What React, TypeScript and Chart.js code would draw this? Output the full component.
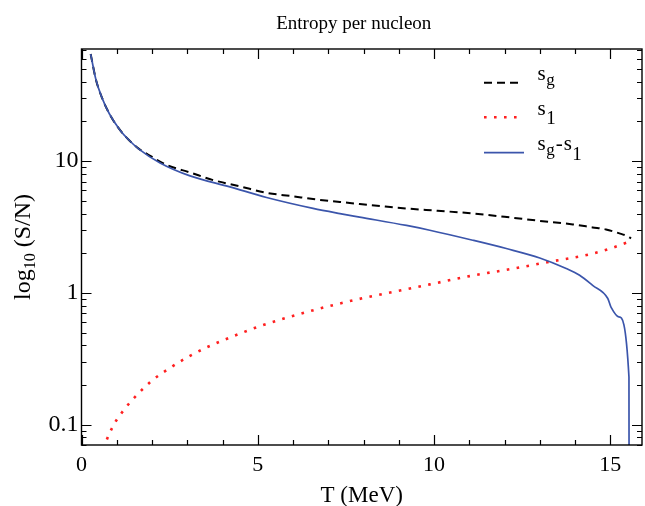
import React, { useEffect, useRef } from 'react';
import { Chart, registerables } from 'chart.js';

Chart.register(...registerables);

const SERIF = '"Liberation Serif", "Times New Roman", Times, serif';

const titleText = 'Entropy per nucleon';
const xTitle = 'T (MeV)';
const yTitleMain = 'log';
const yTitleSub = '10';
const yTitleRest = ' (S/N)';

const xMin = 0;
const xMax = 15.9;
const yMin = 0.07;
const yMax = 71;
const xMajorTicks = [0, 5, 10, 15];
const yMajorTicks = [0.1, 1, 10];

// s_g (black dashed)
const sgT = [0.26, 0.41, 0.585, 0.79, 1.1, 1.33, 1.62, 1.8, 2.43, 3.08, 3.74, 4.5, 5.25, 6.0, 6.57, 7.33, 7.89, 8.5, 9.22, 10.1, 11.1, 12.0, 13.0, 13.94, 14.5, 14.88, 15.26, 15.45, 15.59];
const sgV = [65, 41.5, 30.1, 22.9, 17.1, 14.6, 12.45, 11.6, 9.33, 8.2, 7.17, 6.43, 5.75, 5.41, 5.15, 4.9, 4.72, 4.55, 4.37, 4.2, 4.01, 3.78, 3.52, 3.31, 3.14, 3.03, 2.83, 2.72, 2.59];

// s_1 (red dotted)
const s1T = [0.55, 0.67, 0.9, 1.23, 1.61, 2.03, 2.5, 2.99, 3.5, 4.03, 4.57, 5.11, 5.66, 6.21, 6.76, 7.33, 7.89, 8.44, 9.88, 11.01, 12.14, 13.27, 14.41, 15.0, 15.49];
const s1V = [0.055, 0.071, 0.098, 0.132, 0.172, 0.219, 0.268, 0.323, 0.38, 0.438, 0.5, 0.565, 0.628, 0.693, 0.761, 0.831, 0.9, 0.966, 1.16, 1.34, 1.51, 1.72, 1.96, 2.17, 2.42];

// s_g - s_1 (blue solid)
const dT = [0.26, 0.41, 0.585, 0.79, 1.1, 1.33, 1.62, 2.23, 3.08, 4.21, 5.25, 6.57, 7.33, 7.89, 9.22, 9.88, 11.1, 12.05, 13.0, 13.75, 14.13, 14.5, 14.93, 15.02, 15.24, 15.53, 15.54];
const dV = [65, 41.5, 30.1, 22.9, 17.1, 14.6, 12.4, 9.69, 7.73, 6.38, 5.3, 4.38, 4.0, 3.76, 3.25, 2.99, 2.51, 2.17, 1.84, 1.53, 1.36, 1.14, 0.906, 0.78, 0.658, 0.23, 0.001];

type Part = { t: string; sub?: boolean };
const legendItems: { parts: Part[]; ds: number }[] = [
  { parts: [{ t: 's' }, { t: 'g', sub: true }], ds: 2 },
  { parts: [{ t: 's' }, { t: '1', sub: true }], ds: 1 },
  { parts: [{ t: 's' }, { t: 'g', sub: true }, { t: '-' }, { t: 's' }, { t: '1', sub: true }], ds: 0 },
];

const BLUE = '#3b55ab';
const RED = '#ff2020';

const decor = {
  id: 'decor',
  afterDraw(chart: any) {
    const { ctx, chartArea: a, scales } = chart;
    const xs = scales.x;
    const ys = scales.y;
    ctx.save();
    // frame
    ctx.strokeStyle = '#000';
    ctx.lineWidth = 1.4;
    ctx.strokeRect(a.left, a.top, a.right - a.left, a.bottom - a.top);
    // ticks (inward)
    ctx.lineWidth = 1.2;
    ctx.beginPath();
    for (let t = Math.ceil(xMin); t <= xMax; t += 1) {
      const px = Math.round(xs.getPixelForValue(t)) + 0.5;
      const L = xMajorTicks.includes(t) ? 10 : 5;
      ctx.moveTo(px, a.bottom);
      ctx.lineTo(px, a.bottom - L);
      ctx.moveTo(px, a.top);
      ctx.lineTo(px, a.top + L);
    }
    for (let d = -2; d <= 2; d++) {
      for (let k = 1; k <= 9; k++) {
        const v = k * Math.pow(10, d);
        if (v < yMin || v > yMax) continue;
        const py = Math.round(ys.getPixelForValue(v)) + 0.5;
        const L = k === 1 ? 10 : 5;
        ctx.moveTo(a.left, py);
        ctx.lineTo(a.left + L, py);
        ctx.moveTo(a.right, py);
        ctx.lineTo(a.right - L, py);
      }
    }
    ctx.stroke();

    // title
    ctx.fillStyle = '#000';
    ctx.font = `19px ${SERIF}`;
    ctx.textAlign = 'center';
    ctx.textBaseline = 'alphabetic';
    ctx.fillText(titleText, (a.left + a.right) / 2 - 8, 28.5);

    // y axis title (rotated, with subscript)
    ctx.save();
    const mainFont = `24px ${SERIF}`;
    const subFont = `16px ${SERIF}`;
    ctx.font = mainFont;
    const w1 = ctx.measureText(yTitleMain).width;
    const w3 = ctx.measureText(yTitleRest).width;
    ctx.font = subFont;
    const w2 = ctx.measureText(yTitleSub).width;
    const total = w1 + w2 + w3;
    const cy = (a.top + a.bottom) / 2;
    ctx.translate(30, cy);
    ctx.rotate(-Math.PI / 2);
    ctx.textAlign = 'left';
    let cx = -total / 2;
    ctx.font = mainFont;
    ctx.fillText(yTitleMain, cx, 0);
    cx += w1;
    ctx.font = subFont;
    ctx.fillText(yTitleSub, cx, 5);
    cx += w2;
    ctx.font = mainFont;
    ctx.fillText(yTitleRest, cx, 0);
    ctx.restore();

    // legend
    const rowsY = [a.top + 33.7, a.top + 68.3, a.top + 103.7];
    const sx0 = a.right - 158;
    const sampleLen = [36, 36, 40];
    const tx0 = a.right - 104.5;
    legendItems.forEach((item, i) => {
      const ds = chart.data.datasets[item.ds];
      const y = rowsY[i];
      ctx.save();
      ctx.strokeStyle = ds.borderColor;
      ctx.lineWidth = ds.borderWidth;
      ctx.setLineDash(ds.borderDash || []);
      ctx.lineCap = 'butt';
      ctx.beginPath();
      ctx.moveTo(sx0, y);
      ctx.lineTo(sx0 + sampleLen[i], y);
      ctx.stroke();
      ctx.restore();
      let x = tx0;
      const base = y - 2.5;
      ctx.textAlign = 'left';
      ctx.fillStyle = '#000';
      item.parts.forEach((p) => {
        if (p.sub) {
          const isDigit = p.t === '1';
          ctx.font = `${isDigit ? 19 : 17}px ${SERIF}`;
          ctx.fillText(p.t, x + 0.5, base + (isDigit ? 9.5 : 4.5));
          x += ctx.measureText(p.t).width + 1.5;
        } else {
          ctx.font = `21px ${SERIF}`;
          ctx.fillText(p.t, x, base);
          x += ctx.measureText(p.t).width + (p.t === '-' ? 1 : 0);
        }
      });
    });
    ctx.restore();
  },
};

export default function App() {
  const ref = useRef<HTMLCanvasElement | null>(null);

  useEffect(() => {
    if (!ref.current) return;
    const toXY = (ts: number[], vs: number[]) => ts.map((t, i) => ({ x: t, y: vs[i] }));
    const chart = new Chart(ref.current, {
      type: 'line',
      data: {
        datasets: [
          {
            label: 'sg-s1',
            data: toXY(dT, dV),
            borderColor: BLUE,
            borderWidth: 1.7,
            pointRadius: 0,
            cubicInterpolationMode: 'monotone',
            clip: 0,
          },
          {
            label: 's1',
            data: toXY(s1T, s1V),
            borderColor: RED,
            borderWidth: 2.6,
            borderDash: [2.6, 7.4],
            borderCapStyle: 'butt',
            pointRadius: 0,
            cubicInterpolationMode: 'monotone',
            clip: 0,
          },
          {
            label: 'sg',
            data: toXY(sgT, sgV),
            borderColor: '#000',
            borderWidth: 2,
            borderDash: [8, 5],
            pointRadius: 0,
            cubicInterpolationMode: 'monotone',
            clip: 0,
          },
        ],
      } as any,
      options: {
        animation: false,
        responsive: false,
        devicePixelRatio: 1,
        layout: { padding: { top: 49, right: 3, left: 0, bottom: 0 } },
        plugins: {
          legend: { display: false },
          title: { display: false },
          tooltip: { enabled: false },
        },
        scales: {
          x: {
            type: 'linear',
            min: xMin,
            max: xMax,
            afterBuildTicks: (s: any) => {
              s.ticks = xMajorTicks.map((v) => ({ value: v }));
            },
            afterFit: (s: any) => {
              s.height = 61;
            },
            grid: { display: false, drawTicks: false },
            border: { display: false },
            ticks: {
              color: '#000',
              font: { family: SERIF, size: 22 },
              padding: 7,
              maxRotation: 0,
              autoSkip: false,
              callback: (v: any) => String(v),
            },
            title: {
              display: true,
              text: xTitle,
              color: '#000',
              font: { family: SERIF, size: 23, lineHeight: 1 },
              padding: { top: 0, bottom: -1 },
            },
          },
          y: {
            type: 'logarithmic',
            min: yMin,
            max: yMax,
            afterBuildTicks: (s: any) => {
              s.ticks = yMajorTicks.map((v) => ({ value: v }));
            },
            afterFit: (s: any) => {
              s.width = 81.5;
            },
            grid: { display: false, drawTicks: false },
            border: { display: false },
            ticks: {
              color: '#000',
              font: { family: SERIF, size: 24 },
              padding: 3,
              autoSkip: false,
              callback: (v: any) => String(v),
            },
          },
        },
      } as any,
      plugins: [decor],
    });
    return () => chart.destroy();
  }, []);

  return (
    <div style={{ position: 'absolute', left: 0, top: 0, width: 645, height: 506, background: '#fff' }}>
      <canvas ref={ref} width={645} height={506} style={{ display: 'block' }} />
    </div>
  );
}
